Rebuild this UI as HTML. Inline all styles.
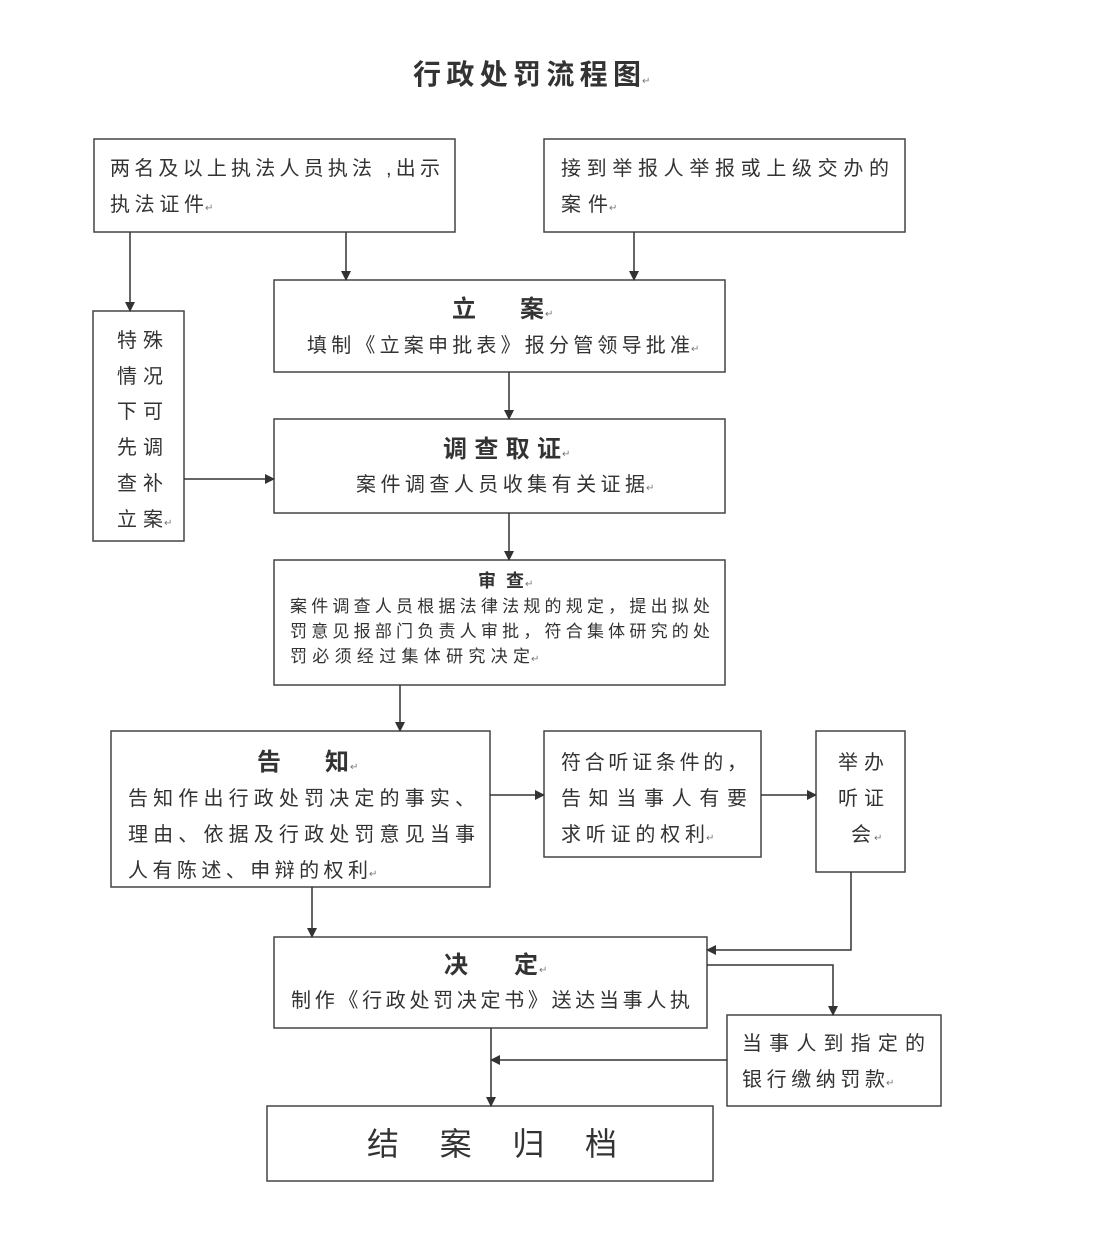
<!DOCTYPE html>
<html><head><meta charset="utf-8"><style>
html,body{margin:0;padding:0;background:#fff;}
svg{display:block;font-family:"Liberation Sans","Noto Sans CJK SC",sans-serif;}
text{fill:#333;}
.r{font-size:10px;fill:#777;}
</style></head><body>
<svg width="1113" height="1237" viewBox="0 0 1113 1237" xmlns="http://www.w3.org/2000/svg">
<defs><marker id="a" markerWidth="10" markerHeight="10" refX="9" refY="5" orient="auto" markerUnits="userSpaceOnUse"><path d="M0,0 L10,5 L0,10 z" fill="#333"/></marker></defs>
<rect width="1113" height="1237" fill="#fff"/>
<text x="413" y="84" font-size="28" font-weight="bold" fill="#222" textLength="228">行政处罚流程图</text><text x="642" y="84" class="r">↵</text>

<g fill="none" stroke="#444" stroke-width="1.5">
<rect x="94" y="139" width="361" height="93"/>
<rect x="544" y="139" width="361" height="93"/>
<rect x="93" y="311" width="91" height="230"/>
<rect x="274" y="280" width="451" height="92"/>
<rect x="274" y="419" width="451" height="94"/>
<rect x="274" y="560" width="451" height="125"/>
<rect x="111" y="731" width="379" height="156"/>
<rect x="544" y="731" width="217" height="126"/>
<rect x="816" y="731" width="89" height="141"/>
<rect x="274" y="937" width="433" height="91"/>
<rect x="727" y="1015" width="214" height="91"/>
<rect x="267" y="1106" width="446" height="75"/>
</g>

<g stroke="#333" stroke-width="1.5" fill="none" marker-end="url(#a)">
<line x1="130" y1="232" x2="130" y2="311"/>
<line x1="346" y1="232" x2="346" y2="280"/>
<line x1="634" y1="232" x2="634" y2="280"/>
<line x1="509" y1="372" x2="509" y2="419"/>
<line x1="509" y1="513" x2="509" y2="560"/>
<line x1="184" y1="479" x2="274" y2="479"/>
<line x1="400" y1="685" x2="400" y2="731"/>
<line x1="490" y1="795" x2="544" y2="795"/>
<line x1="761" y1="795" x2="816" y2="795"/>
<polyline points="851,872 851,950 707,950"/>
<line x1="312" y1="887" x2="312" y2="937"/>
<polyline points="707,965 833,965 833,1015"/>
<line x1="491" y1="1028" x2="491" y2="1106"/>
<line x1="727" y1="1060" x2="491" y2="1060"/>
</g>

<g font-size="20">
<text x="110" y="175" textLength="330">两名及以上执法人员执法 ,出示</text>
<text x="110" y="211" textLength="94">执法证件</text><text x="205" y="211" class="r">↵</text>
<text x="561" y="175" textLength="328">接到举报人举报或上级交办的</text>
<text x="561" y="211" textLength="47">案件</text><text x="609" y="211" class="r">↵</text>

<text x="117" y="347" textLength="46">特殊</text>
<text x="117" y="383" textLength="46">情况</text>
<text x="117" y="418" textLength="46">下可</text>
<text x="117" y="454" textLength="46">先调</text>
<text x="117" y="490" textLength="46">查补</text>
<text x="117" y="526" textLength="46">立案</text><text x="164" y="526" class="r">↵</text>

<text x="452" y="317" font-size="24" font-weight="bold" textLength="92">立　案</text><text x="545" y="317" class="r">↵</text>
<text x="307" y="352" textLength="383">填制《立案申批表》报分管领导批准</text><text x="691" y="352" class="r">↵</text>

<text x="443" y="457" font-size="24" font-weight="bold" textLength="118">调查取证</text><text x="562" y="457" class="r">↵</text>
<text x="356" y="491" textLength="289">案件调查人员收集有关证据</text><text x="646" y="491" class="r">↵</text>

<text x="478" y="587" font-size="18" font-weight="bold" textLength="46">审查</text><text x="525" y="587" class="r">↵</text>
<text x="290" y="612" font-size="17" textLength="420">案件调查人员根据法律法规的规定，提出拟处</text>
<text x="290" y="637" font-size="17" textLength="420">罚意见报部门负责人审批，符合集体研究的处</text>
<text x="290" y="662" font-size="17" textLength="240">罚必须经过集体研究决定</text><text x="531" y="662" class="r">↵</text>

<text x="257" y="770" font-size="24" font-weight="bold" textLength="92">告　知</text><text x="350" y="770" class="r">↵</text>
<text x="128" y="805" textLength="347">告知作出行政处罚决定的事实、</text>
<text x="128" y="841" textLength="347">理由、依据及行政处罚意见当事</text>
<text x="128" y="877" textLength="240">人有陈述、申辩的权利</text><text x="369" y="877" class="r">↵</text>

<text x="561" y="769" textLength="186">符合听证条件的，</text>
<text x="561" y="805" textLength="186">告知当事人有要</text>
<text x="561" y="841" textLength="144">求听证的权利</text><text x="706" y="841" class="r">↵</text>

<text x="838" y="769" textLength="46">举办</text>
<text x="838" y="805" textLength="46">听证</text>
<text x="851" y="841" textLength="22">会</text><text x="874" y="841" class="r">↵</text>

<text x="444" y="973" font-size="24" font-weight="bold" textLength="94">决　定</text><text x="539" y="973" class="r">↵</text>
<text x="291" y="1007" textLength="399">制作《行政处罚决定书》送达当事人执</text>

<text x="742" y="1050" textLength="183">当事人到指定的</text>
<text x="742" y="1086" textLength="143">银行缴纳罚款</text><text x="886" y="1086" class="r">↵</text>

<text x="367" y="1155" font-size="32" textLength="250">结　案　归　档</text>
</g>
</svg>
</body></html>
